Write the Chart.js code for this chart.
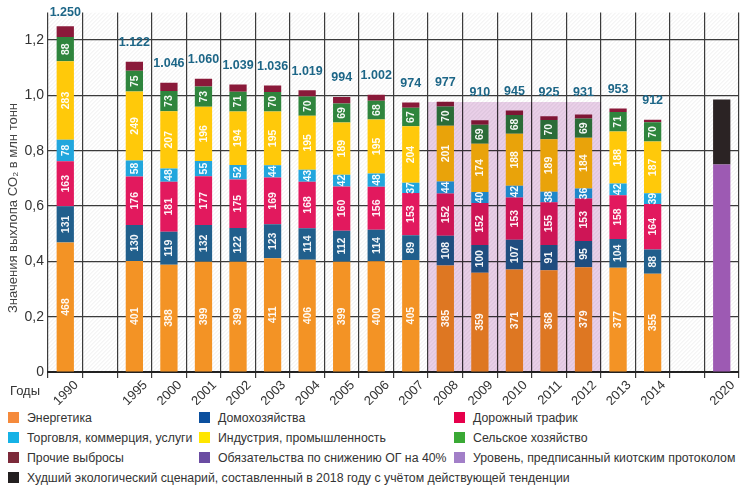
<!DOCTYPE html>
<html><head><meta charset="utf-8">
<script src="https://cdn.jsdelivr.net/npm/chart.js@4.4.1/dist/chart.umd.min.js"></script>
<style>
body{margin:0;background:#fff;width:750px;height:489px;overflow:hidden;font-family:"Liberation Sans",Arial,sans-serif;}
#wrap{position:absolute;left:0;top:0;width:750px;height:405px;}
.lg{position:absolute;font-size:12.3px;color:#333;white-space:nowrap;line-height:16px;}
.lg i{position:absolute;left:-19px;top:2px;width:11px;height:11px;}
</style></head><body>
<div id="wrap"><canvas id="c"></canvas></div>
<div id="legend"></div>
<script>
const years = ['1990','','1995','2000','2001','2002','2003','2004','2005','2006','2007','2008','2009','2010','2011','2012','2013','2014','','2020'];
const energy      = [468,null,401,388,399,399,411,406,399,400,405,385,359,371,368,379,377,355,null,null];
const households  = [131,null,130,119,132,122,123,114,112,114, 89,108,100,107, 91, 95,104, 88,null,null];
const traffic     = [163,null,176,181,177,175,169,168,160,156,153,152,152,153,155,153,158,164,null,null];
const commerce    = [ 78,null, 58, 48, 55, 52, 44, 43, 42, 48, 37, 44, 40, 42, 38, 36, 42, 39,null,null];
const industry    = [283,null,249,207,196,194,195,195,189,195,204,201,174,188,189,184,188,187,null,null];
const agriculture = [ 88,null, 75, 73, 73, 71, 70, 70, 69, 68, 67, 70, 69, 68, 70, 69, 71, 70,null,null];
const otherEm     = [ 39,null, 33, 30, 28, 26, 24, 23, 23, 21, 19, 17, 16, 16, 14, 15, 13,  9,null,null];
const totals      = [1250,null,1122,1046,1060,1039,1036,1019,994,1002,974,977,910,945,925,931,953,912,null,null];
const target40    = [null,null,null,null,null,null,null,null,null,null,null,null,null,null,null,null,null,null,null,750];
const worstCase   = [null,null,null,null,null,null,null,null,null,null,null,null,null,null,null,null,null,null,null,235];
const kyotoLevel  = [null,null,null,null,null,null,null,null,null,null,null,975,975,975,975,975,null,null,null,null];
const yTicks = [0,200,400,600,800,1000,1200];

const legendItems = [
  ['Энергетика','#f58a3c',27,418],
  ['Домохозяйства','#0b4f9e',218,418],
  ['Дорожный трафик','#e6004c',473,418],
  ['Торговля, коммерция, услуги','#16b2e6',27,438],
  ['Индустрия, промышленность','#ffe600',218,438],
  ['Сельское хозяйство','#3aa935',473,438],
  ['Прочие выбросы','#7c2a3a',27,458],
  ['Обязательства по снижению ОГ на 40%','#6a4ca2',218,458],
  ['Уровень, предписанный киотским протоколом','#a27fc8',473,458],
  ['Худший экологический сценарий, составленный в 2018 году с учётом действующей тенденции','#231f20',27,478]
];
const lg=document.getElementById('legend');
legendItems.forEach(([t,c,x,y])=>{
  const d=document.createElement('div');d.className='lg';
  d.style.left=x+'px';d.style.top=(y-8)+'px';
  d.innerHTML='<i style="background:'+c+'"></i>'+t;lg.appendChild(d);
});

const FONT='"Liberation Sans", Arial, sans-serif';
const segs = [
  {label:'Энергетика',data:energy,color:'#f39325'},
  {label:'Домохозяйства',data:households,color:'#215f8c'},
  {label:'Дорожный трафик',data:traffic,color:'#e2195e'},
  {label:'Торговля, коммерция, услуги',data:commerce,color:'#21a6dd'},
  {label:'Индустрия, промышленность',data:industry,color:'#ffc90a'},
  {label:'Сельское хозяйство',data:agriculture,color:'#2f853d'},
  {label:'Прочие выбросы',data:otherEm,color:'#8a1a3a'}
];
const common={barPercentage:0.5,categoryPercentage:1,grouped:false,order:1};
const datasets = segs.map(s=>Object.assign({label:s.label,data:s.data,backgroundColor:s.color},common));
datasets.push(Object.assign({label:'Обязательства по снижению ОГ на 40%',data:target40,backgroundColor:'#9d5ab3'},common));
datasets.push(Object.assign({label:'Худший экологический сценарий',data:worstCase,backgroundColor:'#2b2324'},common));
datasets.push({label:'kyoto',data:kyotoLevel,backgroundColor:'#e9cfe8',barPercentage:1,categoryPercentage:1,grouped:false,xAxisID:'x2',order:-1});
const KY=datasets.length-1;

const fmtTotal = v => v>=1000 ? Math.floor(v/1000)+'.'+String(v%1000).padStart(3,'0') : String(v);

const hatch = {
  id:'hatch',
  beforeDatasetsDraw(chart){
    const {ctx,chartArea:a}=chart;
    ctx.save();ctx.beginPath();ctx.rect(a.left,a.top,a.right-a.left,a.bottom-a.top);ctx.clip();
    ctx.strokeStyle='rgba(0,0,0,0.07)';ctx.lineWidth=1;
    const h=a.bottom-a.top;
    for(let x=a.left-h;x<a.right;x+=4){ctx.beginPath();ctx.moveTo(x,a.bottom);ctx.lineTo(x+h,a.top);ctx.stroke();}
    ctx.restore();
  },
  beforeDatasetDraw(chart,args){
    if(args.index===KY){chart.ctx.save();chart.ctx.globalCompositeOperation='multiply';}
  },
  afterDatasetDraw(chart,args){
    if(args.index===KY){chart.ctx.restore();}
  },
  afterDatasetsDraw(chart){
    const ctx=chart.ctx;
    ctx.save();
    ctx.textAlign='center';ctx.textBaseline='middle';
    for(let d=0;d<6;d++){
      const meta=chart.getDatasetMeta(d);
      meta.data.forEach((el,i)=>{
        const v=chart.data.datasets[d].data[i];
        if(v==null)return;
        ctx.save();
        ctx.translate(el.x,(el.y+el.base)/2);
        ctx.rotate(-Math.PI/2);
        ctx.fillStyle='rgba(255,255,255,0.95)';
        ctx.font='bold 10.5px '+FONT;
        ctx.fillText(String(v),0,0.5);
        ctx.restore();
      });
    }
    const top=chart.getDatasetMeta(6);
    const ky=chart.getDatasetMeta(KY);
    ctx.fillStyle='#1d6687';
    ctx.font='bold 12.5px '+FONT;
    top.data.forEach((el,i)=>{
      const v=totals[i]; if(v==null)return;
      let y=el.y-19;
      if(kyotoLevel[i]!=null) y=Math.min(y,ky.data[i].y-10);
      ctx.fillText(fmtTotal(v),el.x,Math.max(13,y));
    });
    const xs=chart.scales.x;
    ctx.fillStyle='#333';ctx.font='13px '+FONT;
    ctx.textAlign='right';ctx.textBaseline='middle';
    years.forEach((lab,i)=>{
      if(!lab)return;
      ctx.save();
      ctx.translate(xs.getPixelForValue(i)+11,383);
      ctx.rotate(-Math.PI/4);
      ctx.fillText(lab,0,0);
      ctx.restore();
    });
    ctx.textAlign='left';
    ctx.fillText('Годы',10,391);
    ctx.save();
    ctx.translate(13,208);ctx.rotate(-Math.PI/2);
    ctx.textAlign='center';ctx.fillStyle='#444';ctx.font='13px '+FONT;
    ctx.fillText('Значения выхлопа CO₂ в млн тонн',0,0);
    ctx.restore();
    ctx.restore();
  }
};

new Chart(document.getElementById('c'),{
  type:'bar',
  data:{labels:years,datasets},
  options:{
    responsive:true,maintainAspectRatio:false,animation:false,
    layout:{padding:{left:0,top:5,right:11,bottom:0}},
    plugins:{legend:{display:false},tooltip:{enabled:false}},
    scales:{
      x:{stacked:true,offset:true,
        grid:{offset:true,color:'#3c3c3c',lineWidth:1.2,tickLength:6},
        border:{color:'#222',width:2},
        ticks:{autoSkip:false,display:false},
        afterFit(s){s.height=33;}
      },
      x2:{display:false,offset:true,labels:years,grid:{offset:true}},
      y:{stacked:true,min:0,max:1300,
        afterBuildTicks(s){s.ticks=yTicks.map(v=>({value:v}));},
        grid:{color:'#3c3c3c',lineWidth:1.2,drawTicks:false},
        border:{display:false},
        ticks:{color:'#333',padding:4,font:{size:14,family:FONT},
          callback:v=>v===0?'0':(v/1000).toFixed(1).replace('.',',')},
        afterFit(s){s.width=48;}
      }
    }
  },
  plugins:[hatch]
});
</script>
</body></html>
